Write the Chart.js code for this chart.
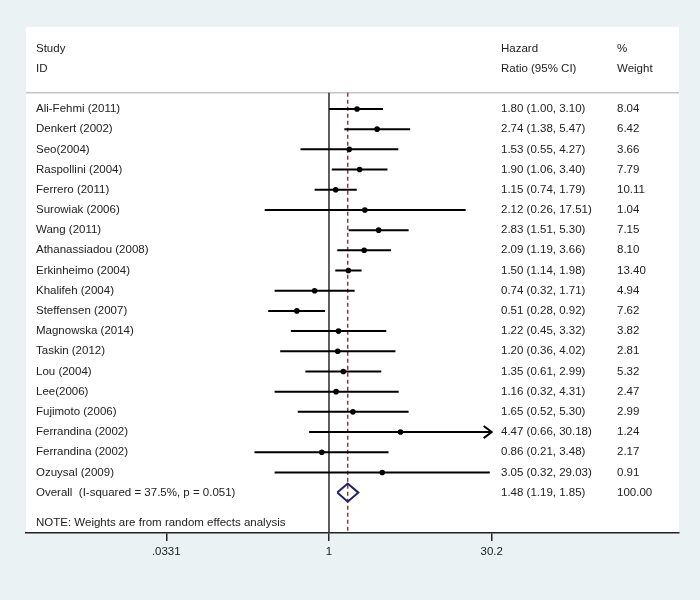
<!DOCTYPE html>
<html>
<head>
<meta charset="utf-8">
<script src="https://cdn.jsdelivr.net/npm/chart.js@4.4.1/dist/chart.umd.min.js"></script>
<style>
  html, body { margin: 0; padding: 0; background: #eaf2f3; }
  #wrap { width: 700px; height: 600px; }
</style>
</head>
<body>
<div id="wrap"><canvas id="forest" width="700" height="600"></canvas></div>
<script>
const studies = ['Ali-Fehmi (2011)', 'Denkert (2002)', 'Seo(2004)', 'Raspollini (2004)', 'Ferrero (2011)',
  'Surowiak (2006)', 'Wang (2011)', 'Athanassiadou (2008)', 'Erkinheimo (2004)', 'Khalifeh (2004)',
  'Steffensen (2007)', 'Magnowska (2014)', 'Taskin (2012)', 'Lou (2004)', 'Lee(2006)', 'Fujimoto (2006)',
  'Ferrandina (2002)', 'Ferrandina (2002)', 'Ozuysal (2009)'];
const hr    = [1.80, 2.74, 1.53, 1.90, 1.15, 2.12, 2.83, 2.09, 1.50, 0.74, 0.51, 1.22, 1.20, 1.35, 1.16, 1.65, 4.47, 0.86, 3.05];
const lower = [1.00, 1.38, 0.55, 1.06, 0.74, 0.26, 1.51, 1.19, 1.14, 0.32, 0.28, 0.45, 0.36, 0.61, 0.32, 0.52, 0.66, 0.21, 0.32];
const upper = [3.10, 5.47, 4.27, 3.40, 1.79, 17.51, 5.30, 3.66, 1.98, 1.71, 0.92, 3.32, 4.02, 2.99, 4.31, 5.30, 30.18, 3.48, 29.03];
const weights = [8.04, 6.42, 3.66, 7.79, 10.11, 1.04, 7.15, 8.10, 13.40, 4.94, 7.62, 3.82, 2.81, 5.32, 2.47, 2.99, 1.24, 2.17, 0.91];
const overallLabel = 'Overall  (I-squared = 37.5%, p = 0.051)';
const overall = [1.48, 1.19, 1.85]; // hr, lower, upper
const overallWeight = 100.00;
const noteText = 'NOTE: Weights are from random effects analysis';
const tickValues = [0.0331, 1, 30.2];
const tickLabels = ['.0331', '1', '30.2'];
const ciMax = 30.2; // CIs beyond this get an arrow

(function(){
  const FONT = '"Liberation Sans", Arial, sans-serif';
  const TXT = '#222';
  const nRows = studies.length;
  const overallRow = nRows;
  const headerLineRow = -0.8;
  const axisBottomRow = 21;

  function fmt(v){ return v.toFixed(2); }

  // CI segments, broken with null gaps
  const ciData = [];
  const arrowData = [];
  studies.forEach((s, i) => {
    const hi = Math.min(upper[i], ciMax);
    ciData.push({x: lower[i], y: i}, {x: hi, y: i}, {x: hi, y: null});
    if (upper[i] >= ciMax - 0.05) {
      // arrow head at the clipped end
      arrowData.push({x: ciMax * 0.845, y: i - 0.3}, {x: ciMax, y: i}, {x: ciMax * 0.845, y: i + 0.3}, {x: ciMax, y: null});
    }
  });
  const pointData = hr.map((v, i) => ({x: v, y: i}));
  const dh = 0.45;
  const diamond = [
    {x: overall[1], y: overallRow}, {x: overall[0], y: overallRow - dh},
    {x: overall[2], y: overallRow}, {x: overall[0], y: overallRow + dh},
    {x: overall[1], y: overallRow}
  ];

  const bgPlugin = {
    id: 'bg',
    beforeDraw(chart){
      const {ctx, chartArea: a} = chart;
      ctx.save();
      ctx.fillStyle = '#eaf2f3';
      ctx.fillRect(0, 0, chart.width, chart.height);
      ctx.fillStyle = '#ffffff';
      ctx.fillRect(a.left, a.top, a.right - a.left, a.bottom - a.top);
      // header separator
      const y = chart.scales.y.getPixelForValue(headerLineRow);
      ctx.strokeStyle = '#c4c4c4';
      ctx.lineWidth = 1.5;
      ctx.beginPath();
      ctx.moveTo(a.left, y); ctx.lineTo(a.right, y);
      ctx.stroke();
      ctx.restore();
    }
  };

  const textPlugin = {
    id: 'cols',
    afterDatasetsDraw(chart){
      const {ctx, chartArea: a} = chart;
      const ys = chart.scales.y;
      const xStudy = a.left + 10, xHr = a.left + 475, xW = a.left + 591;
      ctx.save();
      ctx.fillStyle = TXT;
      ctx.font = '11.5px ' + FONT;
      ctx.textBaseline = 'middle';
      ctx.textAlign = 'left';
      const put = (t, x, row) => ctx.fillText(t, x, ys.getPixelForValue(row));
      put('Study', xStudy, -3); put('ID', xStudy, -2);
      put('Hazard', xHr, -3); put('Ratio (95% CI)', xHr, -2);
      put('%', xW, -3); put('Weight', xW, -2);
      studies.forEach((s, i) => {
        put(s, xStudy, i);
        put(fmt(hr[i]) + ' (' + fmt(lower[i]) + ', ' + fmt(upper[i]) + ')', xHr, i);
        put(fmt(weights[i]), xW, i);
      });
      put(overallLabel, xStudy, overallRow);
      put(fmt(overall[0]) + ' (' + fmt(overall[1]) + ', ' + fmt(overall[2]) + ')', xHr, overallRow);
      put(overallWeight.toFixed(2), xW, overallRow);
      put(noteText, xStudy, overallRow + 1.5);
      ctx.restore();
    }
  };

  const ctx = document.getElementById('forest').getContext('2d');
  new Chart(ctx, {
    type: 'line',
    data: {
      datasets: [
        { data: [{x: 1, y: headerLineRow}, {x: 1, y: axisBottomRow}], borderColor: '#2a2a2a', borderWidth: 1.5, pointRadius: 0, order: 5 },
        { data: [{x: overall[0], y: headerLineRow}, {x: overall[0], y: axisBottomRow}], borderColor: '#8c3a3a', borderWidth: 1.5, borderDash: [4, 3], pointRadius: 0, order: 4 },
        { data: ciData, borderColor: '#000', borderWidth: 2, pointRadius: 0, spanGaps: false, order: 3 },
        { data: arrowData, borderColor: '#000', borderWidth: 2, pointRadius: 0, spanGaps: false, order: 3 },
        { type: 'scatter', data: pointData, pointRadius: 2.8, pointBackgroundColor: '#000', pointBorderWidth: 0, order: 1 },
        { data: diamond, borderColor: '#1f2466', borderWidth: 2, pointRadius: 0, fill: false, order: 2 }
      ]
    },
    options: {
      responsive: false,
      animation: false,
      devicePixelRatio: 1,
      layout: { padding: { left: 26, right: 21, top: 27, bottom: 37.2 } },
      plugins: { legend: { display: false }, tooltip: { enabled: false } },
      scales: {
        x: {
          type: 'logarithmic',
          min: 0.001753,
          max: 1527.5,
          afterBuildTicks(scale){ scale.ticks = tickValues.map(v => ({value: v})); },
          ticks: {
            autoSkip: false, maxRotation: 0, padding: 4,
            color: TXT, font: { family: FONT, size: 11.5 },
            callback: (v, i) => tickLabels[i]
          },
          grid: { drawOnChartArea: false, drawTicks: true, tickLength: 8, color: '#222', lineWidth: 1.5 },
          border: { display: true, color: '#222', width: 1.5 }
        },
        y: {
          type: 'linear', reverse: true, min: -4.06, max: 21, display: false
        }
      }
    },
    plugins: [bgPlugin, textPlugin]
  });
})();
</script>
</body>
</html>
